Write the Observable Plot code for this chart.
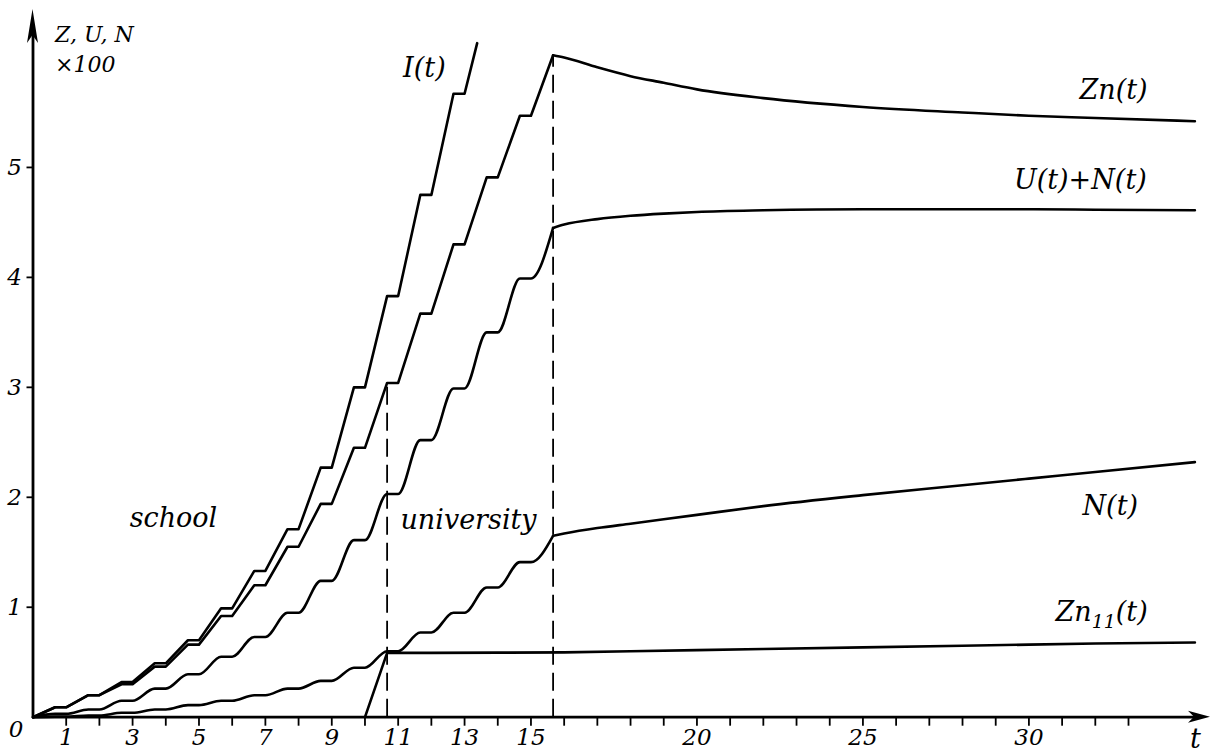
<!DOCTYPE html>
<html><head><meta charset="utf-8">
<script src="https://cdn.jsdelivr.net/npm/d3@7"></script>
<script src="https://cdn.jsdelivr.net/npm/@observablehq/plot@0.6"></script>
<style>
html,body{margin:0;padding:0;background:#fff;}
#chart{width:1211px;height:754px;}
</style></head><body><div id="chart"></div>
<script>
// ---- data (values ×100), yearly levels reached at the end of each study period ----
const yearIdx = [0,1,2,3,4,5,6,7,8,9,10,11,12,13,14,15,16];
const iVals  = [0,0.09,0.20,0.32,0.49,0.70,0.99,1.33,1.71,2.27,3.00,3.83,4.75,5.67];
const iEnd   = {t: 13.38, v: 6.13};
const znVals = [0,0.09,0.20,0.30,0.46,0.66,0.92,1.20,1.55,1.94,2.45,3.04,3.67,4.30,4.91,5.47,6.02];
const unVals = [0,0.03,0.07,0.15,0.26,0.39,0.55,0.73,0.95,1.24,1.61,2.03,2.52,2.99,3.50,3.99,4.45];
const nVals  = [0,0.005,0.015,0.04,0.07,0.11,0.15,0.20,0.26,0.33,0.45,0.60,0.77,0.95,1.18,1.41,1.65];
// after university
const postT  = [15.667,16,17,18,19,20,22,25,28,30,32,35];
const znPost = [6.02,6.00,5.91,5.83,5.77,5.71,5.63,5.55,5.50,5.47,5.45,5.42];
const unPost = [4.45,4.48,4.53,4.56,4.58,4.595,4.61,4.62,4.62,4.62,4.615,4.61];
const nPost  = [1.65,1.67,1.72,1.76,1.80,1.84,1.92,2.02,2.11,2.17,2.23,2.32];
const zn11T  = [10,10.667,12,14,16,18,20,22,25,28,30,32,35];
const zn11V  = [0,0.585,0.585,0.587,0.59,0.60,0.61,0.62,0.635,0.65,0.66,0.67,0.68];
const phaseEnds = [10.667, 15.667];
const phaseTops = [znVals[11], znVals[16]];
const xTicks  = [1,2,3,4,5,6,7,8,9,10,11,12,13,14,15,16,17,18,19,20,21,22,23,24,25,26,27,28,29,30,31,32,33];
const xLabels = [1,3,5,7,9,11,13,15,20,25,30];
const yTicks  = [1,2,3,4,5];
const studyFrac = 2/3; // study part of each year (rise), rest is vacation (flat)

// build staircase geometry from yearly levels
function stairs(vals, openEnd) {
  const pts = [{t: 0, v: vals[0]}];
  for (let n = 1; n < vals.length; n++) {
    pts.push({t: n - 1 + studyFrac, v: vals[n]});
    if (openEnd || n < vals.length - 1) pts.push({t: n, v: vals[n]});
  }
  return pts;
}
const iPts  = stairs(iVals, true).concat([iEnd]);
const znPts = stairs(znVals, false);
const unPts = stairs(unVals, false);
const nPts  = stairs(nVals, false);
const post = vals => postT.map((t, i) => ({t, v: vals[i]}));
const zn11Pts = zn11T.map((t, i) => ({t, v: zn11V[i]}));

const font = "DejaVu Serif";
const lw = 2.6;
const common = {x: "t", y: "v", stroke: "black", strokeWidth: lw, strokeLinejoin: "round"};
const lab = {fill: "black", fontStyle: "italic", fontSize: 27};

const chart = Plot.plot({
  width: 1211, height: 754,
  marginLeft: 32.5, marginRight: 0, marginTop: 2, marginBottom: 37.3,
  x: {domain: [0, 35.5], label: null},
  y: {domain: [0, 6.5], label: null},
  style: {fontFamily: font, background: "white", color: "black"},
  marks: [
    Plot.ruleX(phaseEnds, {x: d => d, y1: 0, y2: (d, i) => phaseTops[i], stroke: "black", strokeWidth: 1.8, strokeDasharray: "18,8"}),
    Plot.line(iPts, {...common}),
    Plot.line(znPts, {...common}),
    Plot.line(unPts, {...common, curve: "monotone-x"}),
    Plot.line(nPts, {...common, curve: "monotone-x"}),
    Plot.line(post(znPost), {...common, curve: "monotone-x"}),
    Plot.line(post(unPost), {...common, curve: "monotone-x"}),
    Plot.line(post(nPost), {...common, curve: "monotone-x"}),
    Plot.line(zn11Pts, {...common}),
    Plot.ruleY([0], {x1: 0, x2: 35.2, stroke: "black", strokeWidth: 2.8}),
    Plot.ruleX([0], {y1: 0, y2: 6.25, stroke: "black", strokeWidth: 2.8}),
    Plot.axisX({ticks: xTicks, tickSize: 9, tickFormat: () => "", strokeWidth: 1.8, label: null}),
    Plot.axisX({ticks: xLabels, tickSize: 0, tickPadding: 11, fontSize: 23, fontStyle: "italic", tickFormat: d => String(d), label: null}),
    Plot.axisY({ticks: yTicks, tickSize: 6, tickPadding: 5, fontSize: 23, fontStyle: "italic", strokeWidth: 1.8, tickFormat: d => String(d), label: null}),
    Plot.text(["0"], {x: 0, y: 0, dx: -17, dy: 12, ...lab, fontSize: 23}),
    Plot.text(["t"], {x: 35.2, y: 0, dx: -6, dy: 22, ...lab}),
    Plot.text(["Z, U, N"], {frameAnchor: "top-left", dx: 22, dy: 24, textAnchor: "start", ...lab, fontSize: 22}),
    Plot.text(["×100"], {frameAnchor: "top-left", dx: 22, dy: 54, textAnchor: "start", ...lab, fontSize: 22}),
    Plot.text(["I(t)"], {x: 11.79, y: 5.9, ...lab}),
    Plot.text(["Zn(t)"], {x: 32.55, y: 5.70, ...lab}),
    Plot.text(["U(t)+N(t)"], {x: 31.55, y: 4.88, ...lab}),
    Plot.text(["N(t)"], {x: 32.45, y: 1.92, ...lab}),
    Plot.text(["Zn11(t)"], {x: 30.8, y: 0.95, textAnchor: "start", ...lab}),
    Plot.text(["school"], {x: 4.23, y: 1.81, ...lab}),
    Plot.text(["university"], {x: 13.12, y: 1.79, ...lab})
  ]
});
document.getElementById("chart").appendChild(chart);

// subscript for Zn11(t)
d3.select(chart).selectAll("text").each(function() {
  if (this.textContent === "Zn11(t)") {
    const el = d3.select(this);
    el.text(null);
    el.append("tspan").text("Zn");
    el.append("tspan").attr("font-size", "19px").attr("dy", "7").text("11");
    el.append("tspan").attr("dy", "-7").text("(t)");
  }
});

// arrowheads on the axes
const sx = chart.scale("x"), sy = chart.scale("y");
const ox = sx.apply(0), oy = sy.apply(0);
const g = d3.select(chart).append("g").attr("fill", "black");
g.append("path").attr("d", `M${ox},9 L${ox + 5.5},43 L${ox},35 L${ox - 5.5},43 Z`);
const xe = sx.apply(35.5) - 1;
g.append("path").attr("d", `M${xe},${oy} L${xe - 22},${oy - 6} L${xe - 16},${oy} L${xe - 22},${oy + 6} Z`);
</script></body></html>
